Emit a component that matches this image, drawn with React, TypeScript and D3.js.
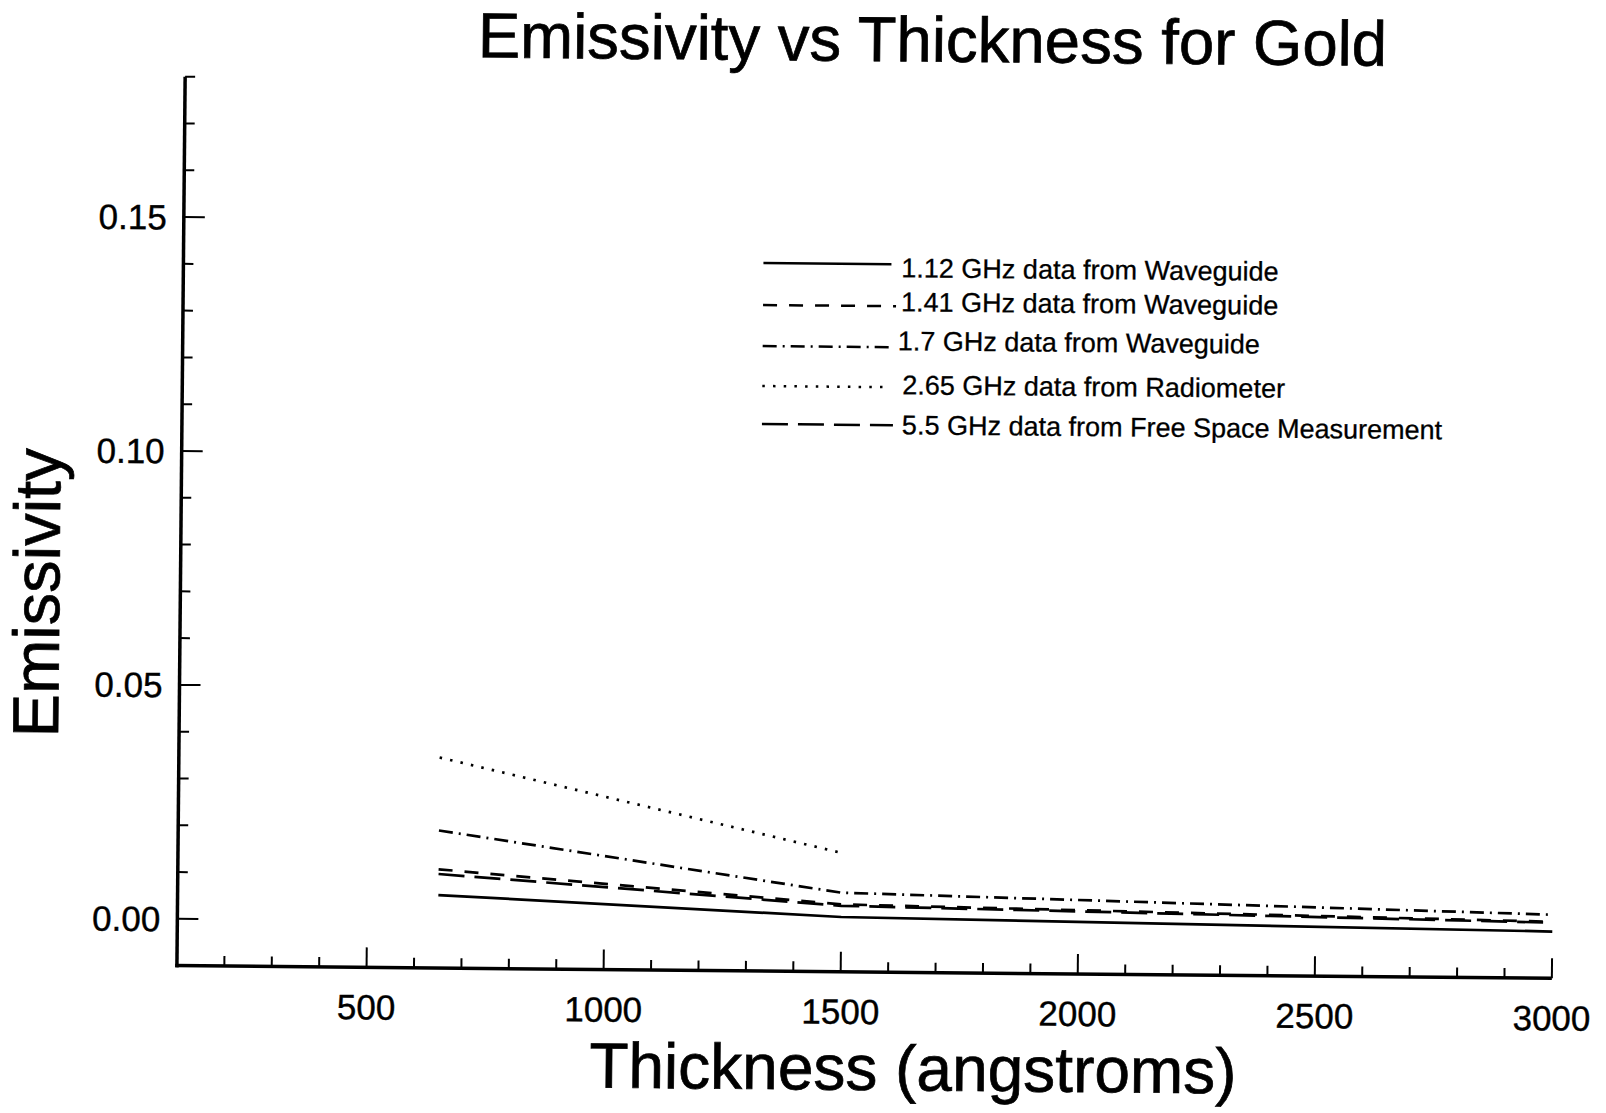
import React from 'react';
import * as d3 from 'd3';

// values
const thickness = [650, 1500, 3000];
const wg112 = [0.0056, 0.0017, 0.0];
const wg141 = [0.0111, 0.0044, 0.0021];
const wg17 = [0.0194, 0.0069, 0.0036];
const rad265 = [0.035, 0.0154];
const fs55 = [0.0101, 0.0041, 0.0019];

const seriesNames = [
  '1.12 GHz data from Waveguide',
  '1.41 GHz data from Waveguide',
  '1.7 GHz data from Waveguide',
  '2.65 GHz data from Radiometer',
  '5.5 GHz data from Free Space Measurement',
];
const seriesValues = [wg112, wg141, wg17, rad265, fs55];

const xTickLabels = [500, 1000, 1500, 2000, 2500, 3000];
const yTickLabels = [0, 0.05, 0.1, 0.15];

const dashes = ['none', '14,12', '14,6,2,6', '2.5,8.2', '26,10'];
// legend rows (unrotated coords): line y, line end, text x, text baseline
const legendRows = [
  { ly: 264, lx2: 889, tx: 899, ty: 277 },
  { ly: 306, lx2: 894, tx: 899, ty: 311 },
  { ly: 347, lx2: 892, tx: 896, ty: 350 },
  { ly: 387, lx2: 887, tx: 901, ty: 394 },
  { ly: 425, lx2: 892, tx: 901, ty: 434 },
];

const W = 1606;
const H = 1113;
const left = 181;
const right = 1556;
const top = 83;
const bottom = 972;
const FONT = '"Liberation Sans", Arial, Helvetica, sans-serif';

export default function App() {
  const x = d3.scaleLinear().domain([100, 3000]).range([left, right]);
  const y = d3.scaleLinear().domain([-0.01, 0.18]).range([bottom, top]);

  const line = d3
    .line<[number, number]>()
    .x((d) => x(d[0]))
    .y((d) => y(d[1]));

  const xMinor = d3.range(200, 3000, 100).filter((v) => v % 500 !== 0);
  const yMinor = d3.range(1, 19).map((i) => i / 100).filter((v) => Math.round(v * 100) % 5 !== 0);

  return (
    <svg
      width={W}
      height={H}
      style={{ position: 'absolute', left: 0, top: 0, background: '#fff' }}
      fontFamily={FONT}
    >
      <g transform="rotate(0.53, 868.7, 527.6)">
        <text x={928} y={61} fontSize={63.5} textAnchor="middle" stroke="#000" strokeWidth={0.7}>
          Emissivity vs Thickness for Gold
        </text>

        {/* axes */}
        <line x1={left} x2={left} y1={top} y2={bottom + 1.75} stroke="#000" strokeWidth={3.5} />
        <line x1={left - 1.75} x2={right} y1={bottom} y2={bottom} stroke="#000" strokeWidth={3.5} />

        {xTickLabels.map((v) => (
          <g key={'xt' + v}>
            <line x1={x(v)} x2={x(v)} y1={bottom} y2={bottom - 20} stroke="#000" strokeWidth={2} />
            <text x={x(v)} y={bottom + 52} fontSize={35} textAnchor="middle" stroke="#000" strokeWidth={0.4}>
              {v}
            </text>
          </g>
        ))}
        {xMinor.map((v) => (
          <line key={'xm' + v} x1={x(v)} x2={x(v)} y1={bottom} y2={bottom - 10} stroke="#000" strokeWidth={2} />
        ))}

        {yTickLabels.map((v) => (
          <g key={'yt' + v}>
            <line x1={left} x2={left + 21} y1={y(v)} y2={y(v)} stroke="#000" strokeWidth={2} />
            <text x={left - 17} y={y(v) + 12.5} fontSize={35} textAnchor="end" stroke="#000" strokeWidth={0.4}>
              {v.toFixed(2)}
            </text>
          </g>
        ))}
        {yMinor.map((v) => (
          <line key={'ym' + v} x1={left} x2={left + 10} y1={y(v)} y2={y(v)} stroke="#000" strokeWidth={2} />
        ))}

        {/* data */}
        {seriesValues.map((vals, i) => (
          <path
            key={'s' + i}
            d={line(vals.map((v, j) => [thickness[j], v] as [number, number])) || ''}
            fill="none"
            stroke="#000"
            strokeWidth={2.7}
            strokeDasharray={dashes[i]}
          />
        ))}

        {/* legend */}
        {seriesNames.map((name, i) => (
          <g key={'lg' + i}>
            <line
              x1={761}
              x2={legendRows[i].lx2}
              y1={legendRows[i].ly}
              y2={legendRows[i].ly}
              stroke="#000"
              strokeWidth={2.5}
              strokeDasharray={dashes[i]}
            />
            <text x={legendRows[i].tx} y={legendRows[i].ty} fontSize={27} stroke="#000" strokeWidth={0.3}>
              {name}
            </text>
          </g>
        ))}

        <text x={918} y={1090} fontSize={64} textAnchor="middle" stroke="#000" strokeWidth={0.7}>
          Thickness (angstroms)
        </text>
        <text
          transform="translate(60, 600.5) rotate(-90)"
          fontSize={65}
          textAnchor="middle"
          stroke="#000"
          strokeWidth={0.7}
        >
          Emissivity
        </text>
      </g>
    </svg>
  );
}
